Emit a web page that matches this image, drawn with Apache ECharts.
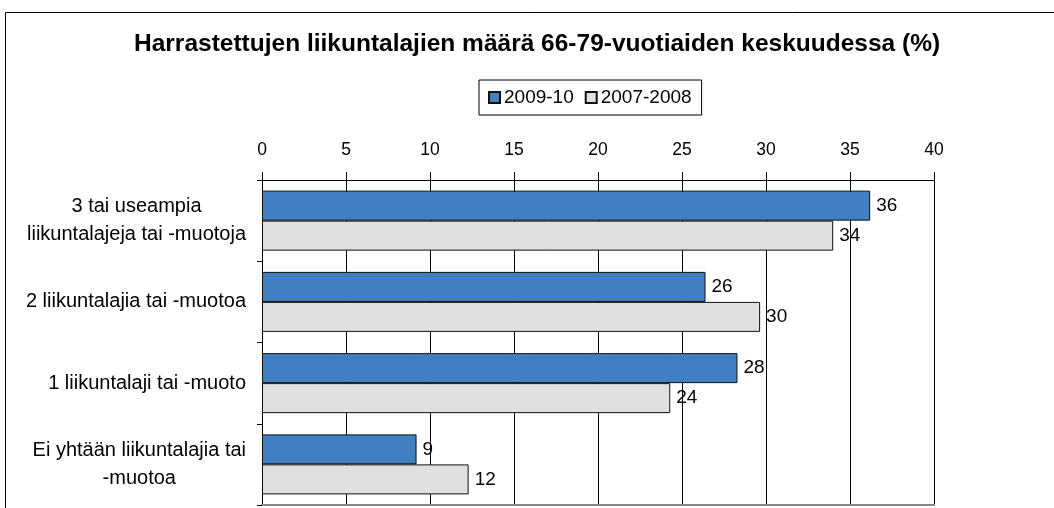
<!DOCTYPE html>
<html>
<head>
<meta charset="utf-8">
<script src="https://cdn.jsdelivr.net/npm/echarts@6/dist/echarts.min.js"></script>
<style>
html,body{margin:0;padding:0;background:#fff;}
#chart{width:1054px;height:508px;}
</style>
</head>
<body>
<div id="chart"></div>
<script>
var titleText = 'Harrastettujen liikuntalajien määrä 66-79-vuotiaiden keskuudessa (%)';
var categories = [
  '3 tai useampia\nliikuntalajeja tai -muotoja',
  '2 liikuntalajia tai -muotoa',
  '1 liikuntalaji tai -muoto',
  'Ei yhtään liikuntalajia tai\n-muotoa'
];
var seriesNames = ['2009-10', '2007-2008'];
var values2009 = [36.2, 26.4, 28.3, 9.2];
var values2007 = [34.0, 29.65, 24.3, 12.3];
var xTicks = [0, 40, 5];

var FONT = '"Liberation Sans", Arial, Helvetica, sans-serif';
var chart = echarts.init(document.getElementById('chart'));

function labelFmt(p) { return Math.round(p.value); }

chart.setOption({
  animation: false,
  backgroundColor: '#fff',
  graphic: [{
    type: 'rect',
    shape: { x: 5.5, y: 12.5, width: 1100, height: 600 },
    style: { fill: 'none', stroke: '#000', lineWidth: 1 },
    silent: true
  }],
  title: {
    text: titleText, left: 129, top: 27,
    textStyle: { fontFamily: FONT, fontSize: 24.5, fontWeight: 'bold', color: '#000' }
  },
  legend: {
    top: 80, left: 479,
    data: seriesNames,
    icon: 'rect', itemWidth: 11, itemHeight: 11, itemGap: 11,
    borderColor: '#000', borderWidth: 1, padding: [8, 10, 8, 9],
    textStyle: { fontFamily: FONT, fontSize: 19, color: '#000', padding: [0, 0, 0, -1] }
  },
  grid: { left: 262, right: 120, top: 180, bottom: 3, containLabel: false },
  xAxis: [{
    type: 'value', position: 'top', min: xTicks[0], max: xTicks[1], interval: xTicks[2],
    axisLine: { show: true, lineStyle: { color: '#000', width: 1 } },
    axisTick: { show: true, length: 8, lineStyle: { color: '#000' } },
    splitLine: { show: true, lineStyle: { color: '#000', width: 1 } },
    axisLabel: { fontFamily: FONT, fontSize: 17.5, color: '#000', margin: 21 }
  }, {
    type: 'value', position: 'bottom', min: xTicks[0], max: xTicks[1], interval: xTicks[2],
    axisLine: { show: true, lineStyle: { color: '#888', width: 2 } },
    axisTick: { show: false }, axisLabel: { show: false }, splitLine: { show: false }
  }],
  yAxis: {
    type: 'category', inverse: true, data: categories,
    axisLine: { show: true, lineStyle: { color: '#000', width: 1 } },
    axisTick: { show: true, length: 5, lineStyle: { color: '#000' } },
    axisLabel: {
      margin: 16, align: 'right',
      formatter: function (v) { return v.split('\n').map(function (s) { return '{c|' + s + '}'; }).join('\n'); },
      rich: { c: { align: 'center', fontFamily: FONT, fontSize: 20, color: '#000', lineHeight: 28 } }
    }
  },
  series: [{
    name: seriesNames[0], type: 'bar', data: values2009,
    barWidth: 30, barGap: '0%',
    itemStyle: { color: '#3f7fc2', borderColor: '#111', borderWidth: 1 },
    label: { show: true, position: 'right', distance: 6, formatter: labelFmt,
      fontFamily: FONT, fontSize: 19, color: '#000' }
  }, {
    name: seriesNames[1], type: 'bar', data: values2007,
    barWidth: 30, barGap: '0%',
    itemStyle: { color: '#e0e0e0', borderColor: '#111', borderWidth: 1 },
    label: { show: true, position: 'right', distance: 6, formatter: labelFmt,
      fontFamily: FONT, fontSize: 19, color: '#000' }
  }]
});
</script>
</body>
</html>
